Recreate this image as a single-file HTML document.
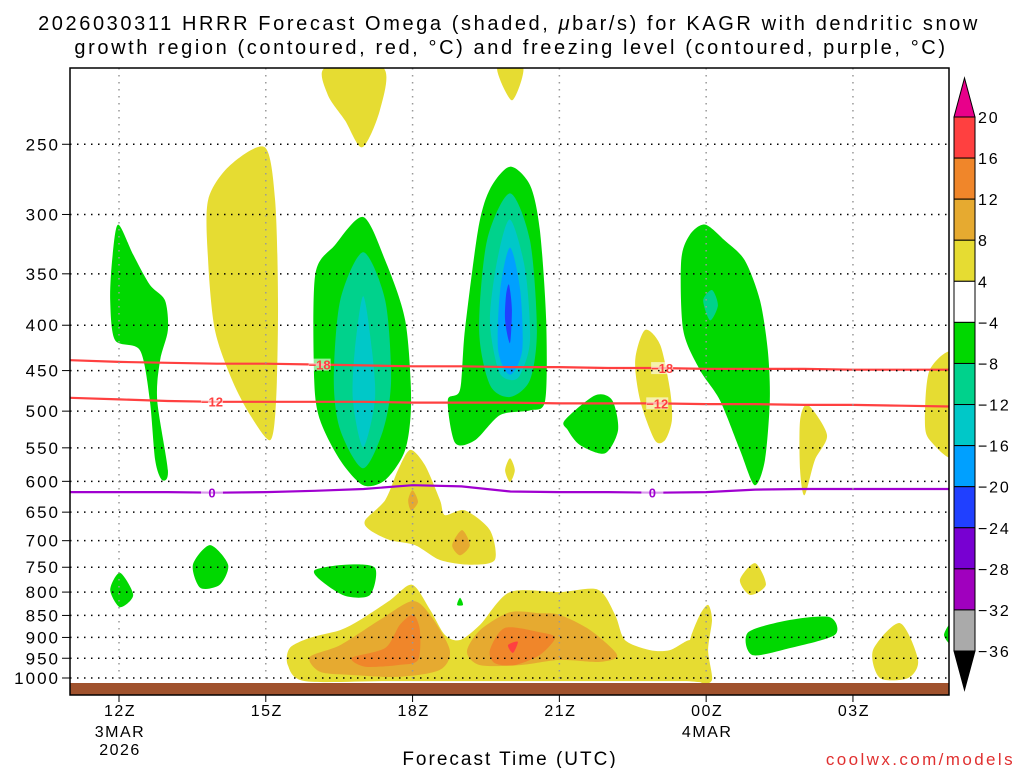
<!DOCTYPE html>
<html><head><meta charset="utf-8"><style>
html,body{margin:0;padding:0;background:#fff;}
svg{display:block;font-family:"Liberation Sans",sans-serif;}
</style></head><body>
<svg id="chart" width="1024" height="768" viewBox="0 0 1024 768" xmlns="http://www.w3.org/2000/svg">
<text x="509" y="30" font-size="20" letter-spacing="2.6" text-anchor="middle" fill="#000">2026030311 HRRR Forecast Omega (shaded, <tspan font-style="italic">μ</tspan>bar/s) for KAGR with dendritic snow</text>
<text x="511" y="54" font-size="20" letter-spacing="2.6" text-anchor="middle" fill="#000">growth region (contoured, red, °C) and freezing level (contoured, purple, °C)</text>
<g id="plot"></g>
<g id="cbar"></g>
<text x="510" y="765" font-size="19" letter-spacing="2" text-anchor="middle">Forecast Time (UTC)</text>
<text x="1015" y="765" font-size="17" letter-spacing="2.4" text-anchor="end" fill="#e03030">coolwx.com/models</text>
</svg>
<script>
// ---- data ----
const pressureTicks = [250,300,350,400,450,500,550,600,650,700,750,800,850,900,950,1000];
const timeTickHours = [12,15,18,21,24,27];
const timeTickLabels = ["12Z","15Z","18Z","21Z","00Z","03Z"];
const timeTickSub1 = ["3MAR","","","","4MAR",""];
const timeTickSub2 = ["2026","","","","",""];
const levelColors = ["#e6dc32","#e6aa30","#f0862a","#ff4040","#00d800","#00d28c","#00c8c8","#00a0ff","#2040ff"];
// level index: 0:4-8 1:8-12 2:12-16 3:16-20 4:-4..-8 5:-8..-12 6:-12..-16 7:-16..-20 8:-20..-24
const regionLevels = [0,0,0,4,4,5,6,4,5,6,7,8,4,5,0,4,0,0,0,1,1,0,4,4,4,0,4,0,4,4,0,0,1,1,2,2,3];
const regionShapes = [
 [[16.21,205],[17.40,205],[17.33,229],[16.97,252],[16.62,235],[16.27,220]],
 [[19.73,205],[20.26,205],[20.03,223]],
 [[13.82,289],[14.27,264],[14.98,252],[15.19,289],[15.25,375],[15.21,486],[15.09,539],[14.68,505],[14.31,461],[13.96,405],[13.82,338]],
 [[11.86,338],[11.98,308],[12.29,333],[12.63,360],[12.94,375],[13.0,405],[12.84,438],[12.78,486],[13.0,583],[12.88,598],[12.74,568],[12.63,486],[12.43,427],[11.92,416],[11.82,375]],
 [[16.99,302],[17.44,338],[17.85,395],[17.97,486],[17.85,553],[17.44,598],[16.99,606],[16.52,568],[16.11,512],[15.99,461],[16.01,351],[16.41,325]],
 [[16.99,331],[17.44,375],[17.56,461],[17.40,525],[16.99,580],[16.52,525],[16.39,461],[16.52,375]],
 [[16.99,371],[17.17,427],[17.23,486],[16.99,549],[16.78,486],[16.82,427]],
 [[19.99,265],[20.40,278],[20.60,312],[20.73,395],[20.71,486],[20.40,499],[19.79,505],[19.28,539],[18.87,543],[18.72,486],[18.97,473],[19.07,405],[19.34,312],[19.58,281]],
 [[19.99,284],[20.40,321],[20.54,405],[20.40,461],[19.99,482],[19.58,467],[19.36,405],[19.52,321]],
 [[19.99,304],[20.30,346],[20.40,416],[20.20,455],[19.99,461],[19.75,449],[19.58,395],[19.73,338]],
 [[19.99,327],[20.20,365],[20.24,427],[19.99,455],[19.75,427],[19.79,365]],
 [[19.97,360],[20.03,384],[19.99,419],[19.89,395],[19.91,370]],
 [[23.98,308],[24.38,321],[24.79,338],[25.10,375],[25.26,427],[25.30,486],[25.20,568],[24.99,606],[24.69,553],[24.28,486],[23.87,449],[23.53,405],[23.49,338],[23.67,316]],
 [[24.12,365],[24.24,380],[24.08,395],[23.94,375]],
 [[22.75,405],[23.06,421],[23.26,473],[23.30,512],[23.16,539],[22.95,539],[22.65,486],[22.55,438]],
 [[21.11,512],[21.73,480],[22.08,486],[22.20,525],[21.93,558],[21.42,546],[21.17,525]],
 [[25.92,512],[26.08,492],[26.47,532],[26.22,568],[26.01,622],[25.92,583]],
 [[29.1,432],[28.57,449],[28.47,512],[28.57,539],[29.1,560]],
 [[17.03,664],[17.44,630],[17.70,583],[17.95,553],[18.25,575],[18.56,630],[18.66,655],[19.07,647],[19.58,681],[19.68,736],[19.17,745],[18.56,736],[18.05,708],[17.54,699],[17.13,681]],
 [[18.0,614],[18.11,633],[17.97,647],[17.91,630]],
 [[19.01,681],[19.17,708],[18.97,727],[18.81,708]],
 [[19.99,565],[20.09,583],[19.99,601],[19.89,583]],
 [[13.51,745],[13.86,708],[14.23,745],[14.06,785],[13.66,791]],
 [[11.82,795],[12.02,761],[12.29,806],[12.02,832]],
 [[16.01,755],[16.62,745],[17.23,751],[17.13,806],[16.62,808],[16.11,775]],
 [[24.69,775],[25.0,742],[25.22,785],[24.90,806]],
 [[24.86,888],[25.72,860],[26.53,854],[26.63,894],[25.72,925],[24.94,942]],
 [[27.41,930],[27.96,867],[28.33,954],[28.13,1000],[27.55,1000]],
 [[28.86,894],[29.1,856],[29.1,925]],
 [[18.97,812],[19.03,827],[18.91,827]],
 [[23.67,906],[23.87,849],[24.04,827],[24.12,860],[24.04,930],[24.12,1005],[23.87,1010],[23.67,954]],
 [[15.45,967],[15.49,925],[15.90,901],[16.52,883],[16.93,860],[17.54,817],[17.99,785],[18.36,838],[18.66,894],[18.97,906],[19.38,871],[19.99,800],[21.01,800],[21.79,795],[22.14,849],[22.34,906],[22.85,930],[23.26,930],[23.67,906],[23.87,930],[23.98,1005],[23.5,1008],[21.5,1008],[19.5,1008],[17.5,1008],[15.8,1008]],
 [[15.90,947],[16.52,918],[17.33,860],[17.99,819],[18.36,849],[18.76,930],[18.56,979],[17.74,997],[16.72,992],[16.11,984]],
 [[19.11,934],[19.38,883],[19.99,843],[20.60,845],[21.01,849],[21.63,883],[22.18,942],[21.83,959],[21.01,954],[20.20,967],[19.38,967]],
 [[16.76,949],[17.44,925],[17.74,871],[18.01,849],[18.15,883],[18.11,954],[17.70,967],[17.03,971]],
 [[19.58,930],[19.89,878],[20.60,888],[20.91,901],[20.60,942],[20.09,967],[19.68,962]],
 [[19.95,918],[20.15,910],[20.05,937]]
];
const contourHours = [11,12,13,14,15,16,17,18,19,20,21,22,23,24,25,26,27,28,29];
const contourMinus18 = [438,440,441,442,442,443,444,445,445,446,446,447,447,448,448,448,449,449,449];
const contourMinus12 = [483,485,487,488,488,488,488,489,489,489,490,490,490,491,491,492,492,493,494];
const contourZero = [617,617,617,618,617,615,612,606,608,616,617,617,618,617,613,612,612,612,612];
const cbarLabels = ["20","16","12","8","4","−4","−8","−12","−16","−20","−24","−28","−32","−36"];
const cbarColors = ["#ff4040","#f0862a","#e6aa30","#e6dc32","#ffffff","#00d800","#00d28c","#00c8c8","#00a0ff","#2040ff","#7800d2","#a000be","#aaaaaa"];

// ---- axes ----
const X0=70, X1=949, Y0=68, YB=695;
const xs = h => 119 + (h-12)*48.93;
const ys = p => 678 - 385*Math.log(1000/p);
const NS="http://www.w3.org/2000/svg";
function mk(tag, attrs, parent){const e=document.createElementNS(NS,tag);for(const k in attrs)e.setAttribute(k,attrs[k]);parent.appendChild(e);return e;}
function smoothClosed(pts){
  const n=pts.length, t=0.14;
  let d='M'+pts[0][0].toFixed(1)+','+pts[0][1].toFixed(1);
  for(let i=0;i<n;i++){
    const p0=pts[(i-1+n)%n],p1=pts[i],p2=pts[(i+1)%n],p3=pts[(i+2)%n];
    const c1=[p1[0]+(p2[0]-p0[0])*t,p1[1]+(p2[1]-p0[1])*t];
    const c2=[p2[0]-(p3[0]-p1[0])*t,p2[1]-(p3[1]-p1[1])*t];
    d+=' C'+c1[0].toFixed(1)+','+c1[1].toFixed(1)+' '+c2[0].toFixed(1)+','+c2[1].toFixed(1)+' '+p2[0].toFixed(1)+','+p2[1].toFixed(1);
  }
  return d+'Z';
}
const plot=document.getElementById('plot');
const clip=mk('clipPath',{id:'pc'},plot);
mk('rect',{x:X0,y:Y0,width:X1-X0,height:YB-Y0},clip);
const shaded=mk('g',{'clip-path':'url(#pc)'},plot);
regionShapes.forEach((shape,i)=>{
  const pts=shape.map(d=>[xs(d[0]),ys(d[1])]);
  const el=mk('path',{d:smoothClosed(pts),fill:levelColors[regionLevels[i]]},shaded);
  
  
});
// ground
const gr=mk('rect',{x:X0,y:683,width:X1-X0,height:12,fill:'#a0522d'},plot);


// grid
pressureTicks.forEach(p=>{
  const l=mk('line',{x1:X0,x2:X1,y1:ys(p),y2:ys(p),stroke:'#000','stroke-width':1.5,'stroke-dasharray':'1.5,5.5'},plot);
  
  
  const t=mk('line',{x1:X0-8,x2:X0,y1:ys(p),y2:ys(p),stroke:'#000'},plot);
  
  
  const tx=mk('text',{x:X0-10,y:ys(p)+6,'font-size':17,'letter-spacing':2,'text-anchor':'end'},plot);
  tx.textContent=p;
  
  
});
timeTickHours.forEach((h,i)=>{
  const l=mk('line',{x1:xs(h),x2:xs(h),y1:Y0,y2:683,stroke:'#999','stroke-width':1.5,'stroke-dasharray':'1.5,5.5'},plot);
  
  
  const t=mk('line',{x1:xs(h),x2:xs(h),y1:YB,y2:YB+7,stroke:'#000'},plot);
  
  
  [[timeTickLabels[i],716],[timeTickSub1[i],737],[timeTickSub2[i],755]].forEach((s,j)=>{
    if(!s[0])return;
    const tx=mk('text',{x:xs(h)+1,y:s[1],'font-size':16,'letter-spacing':1.5,'text-anchor':'middle'},plot);
    tx.textContent=s[0];
    
    
  });
});
// contours
function contour(vals,color,name,labelHours,labelText){
  const d=contourHours.map((h,i)=>(i?'L':'M')+xs(h).toFixed(1)+','+ys(vals[i]).toFixed(1)).join(' ');
  const p=mk('path',{d:d,fill:'none',stroke:color,'stroke-width':2.2},shaded);
  
  
  labelHours.forEach(h=>{
    const i=contourHours.findIndex(c=>c>=h);
    const v=vals[Math.max(0,i-1)]+(vals[i]-vals[Math.max(0,i-1)])*(h-contourHours[Math.max(0,i-1)]);
    mk('rect',{x:xs(h)-11,y:ys(v)-6,width:22,height:12,fill:'#fff','fill-opacity':0.6},shaded);
    const t=mk('text',{x:xs(h),y:ys(v)+5,'font-size':13,'font-weight':'bold','text-anchor':'middle',fill:color},shaded);
    t.textContent=labelText;
    
    
  });
}
contour(contourMinus18,'#ff4040','contour-minus18',[16.1,23.1],'−18');
contour(contourMinus12,'#ff4040','contour-minus12',[13.9,23.0],'−12');
contour(contourZero,'#a000d0','freezing-level-contour',[13.9,22.9],'0');
const fr=mk('rect',{x:X0,y:Y0,width:X1-X0,height:YB-Y0,fill:'none',stroke:'#000','stroke-width':1.5},plot);


// colorbar
const cb=document.getElementById('cbar');
const CX0=954, CX1=975, CT=117, CS=(651-117)/13;
mk('polygon',{points:`${CX0},${CT} ${CX1},${CT} ${(CX0+CX1)/2},78`,fill:'#e8008a',stroke:'#000'},cb);
mk('polygon',{points:`${CX0},651 ${CX1},651 ${(CX0+CX1)/2},690`,fill:'#000',stroke:'#000'},cb);
cbarColors.forEach((c,i)=>{
  const r=mk('rect',{x:CX0,y:CT+i*CS,width:CX1-CX0,height:CS,fill:c,stroke:'#000','stroke-width':1},cb);
  
  
});
cbarLabels.forEach((s,i)=>{
  const t=mk('text',{x:978,y:CT+i*CS+6,'font-size':16,'letter-spacing':1.8},cb);
  t.textContent=s;
  
  
});
</script>
</body></html>
